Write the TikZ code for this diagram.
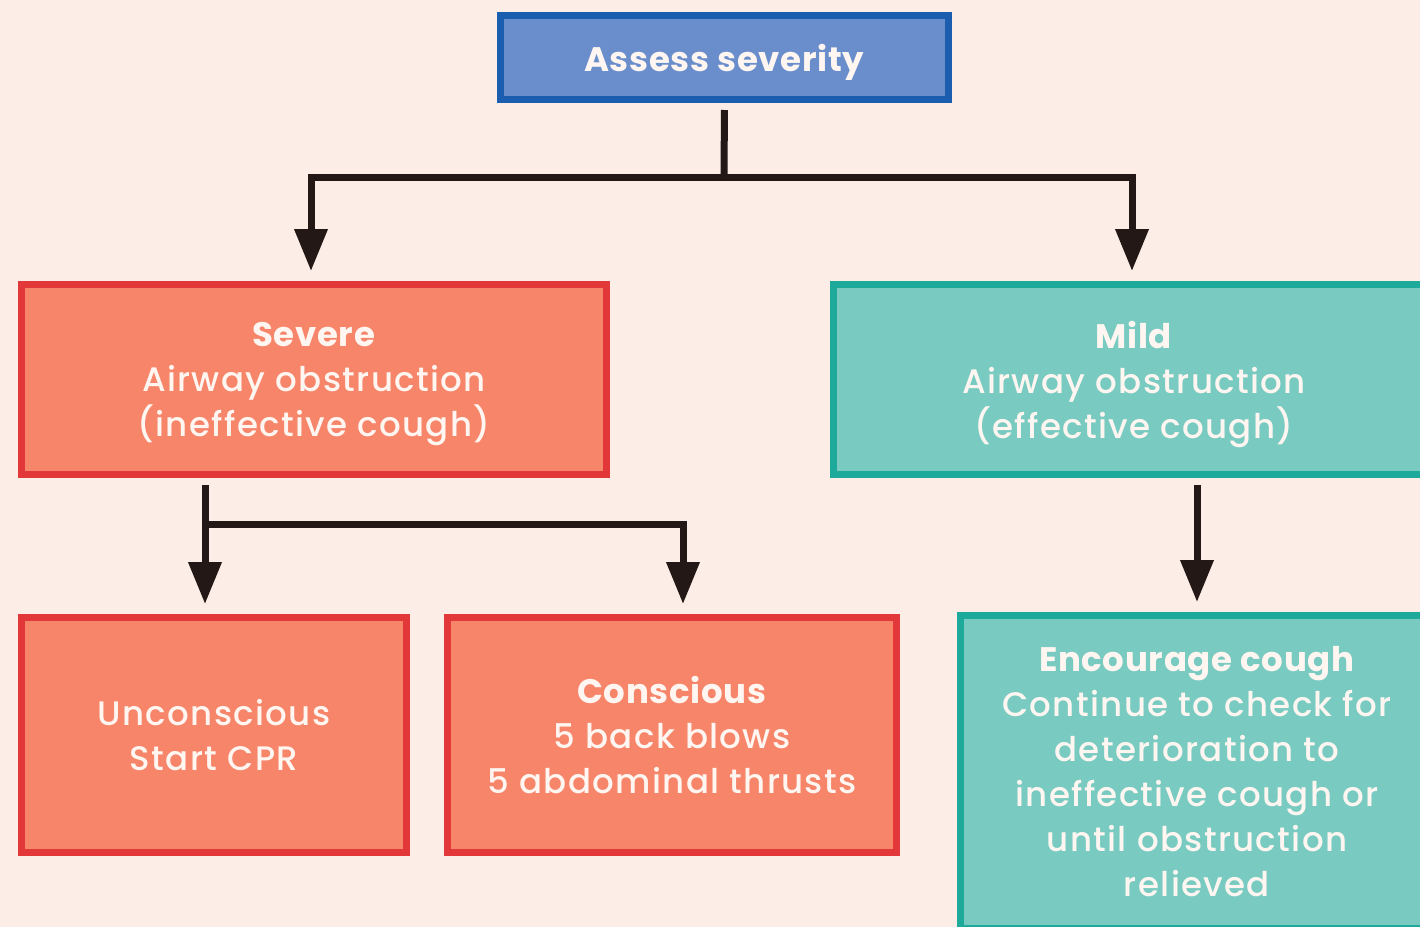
\documentclass[tikz,border=0pt]{standalone}
\usepackage{fontspec}
\setmainfont{Poppins}[UprightFont={* Medium}, BoldFont={* Bold},
  UprightFeatures={LetterSpace=4}, BoldFeatures={LetterSpace=2}]
\usetikzlibrary{arrows.meta,calc}
\definecolor{bgc}{HTML}{FCEEE6}
\definecolor{bluefill}{HTML}{6A8DCB}
\definecolor{blueline}{HTML}{1B5EB0}
\definecolor{redfill}{HTML}{F7856A}
\definecolor{redline}{HTML}{E2383A}
\definecolor{tealfill}{HTML}{79CBC1}
\definecolor{tealline}{HTML}{1DAA9B}
\definecolor{linec}{HTML}{231815}
\definecolor{txtc}{HTML}{FFF6F1}
\newcommand\nodepth[1]{\raisebox{0pt}[\height][0pt]{#1}}
\begin{document}
\begin{tikzpicture}[x=0.5pt,y=-0.5pt,
  >={Triangle[width=16pt,length=21pt]},
  box/.style={draw, line width=3.5pt, align=center, text=txtc, inner sep=0pt,
    font=\fontsize{17}{22.5}\selectfont},
  bluebox/.style={box, fill=bluefill, draw=blueline},
  redbox/.style={box, fill=redfill, draw=redline},
  tealbox/.style={box, fill=tealfill, draw=tealline},
  conn/.style={draw=linec, line width=3.5pt, shorten <=3.5pt, shorten >=5pt}
]
\useasboundingbox (0,0) rectangle (1420,927);
\fill[bgc] (0,0) rectangle (1420,927);
\clip (0,0) rectangle (1420,927);

\node[bluebox, minimum width=224pt, minimum height=42pt] (assess) at (724.5,57.5) {\nodepth{\textbf{Assess severity}}};
\node[redbox, minimum width=292.5pt, minimum height=95pt] (severe) at (314,379.5)
  {\textbf{Severe}\\Airway obstruction\\\nodepth{(ineffective cough)}};
\node[tealbox, minimum width=300.5pt, minimum height=95pt] (mild) at (1134,379.5)
  {\textbf{Mild}\\Airway obstruction\\\nodepth{(effective cough)}};
\node[redbox, minimum width=192.5pt, minimum height=117.5pt] (unc) at (214,735)
  {Unconscious\\Start CPR};
\node[redbox, minimum width=224.5pt, minimum height=117.5pt] (con) at (672,735)
  {\textbf{Conscious}\\5 back blows\\5 abdominal thrusts};
\node[tealbox, minimum width=236.5pt, minimum height=156.5pt] (enc) at (1197,772)
  {\textbf{Encourage cough}\\Continue to check for\\deterioration to\\ineffective cough or\\until obstruction\\relieved};

\coordinate (j1) at (724,177);
\coordinate (j2) at (205,524);

\draw[conn, shorten >=0pt] (assess.south) -- (j1);
\draw[conn, shorten <=5pt, <->] ($(severe.north)+(-3,0)$) |- (j1) -| ($(mild.north)+(-2,0)$);
\draw[conn, shorten >=0pt] (severe.south -| j2) -- (j2);
\draw[conn, shorten <=5pt, <->] ($(unc.north)+(-9,0)$) |- (j2) -| ($(con.north)+(11,0)$);
\draw[conn, ->] (mild.south -| enc.north) -- (enc.north);
\end{tikzpicture}
\end{document}
